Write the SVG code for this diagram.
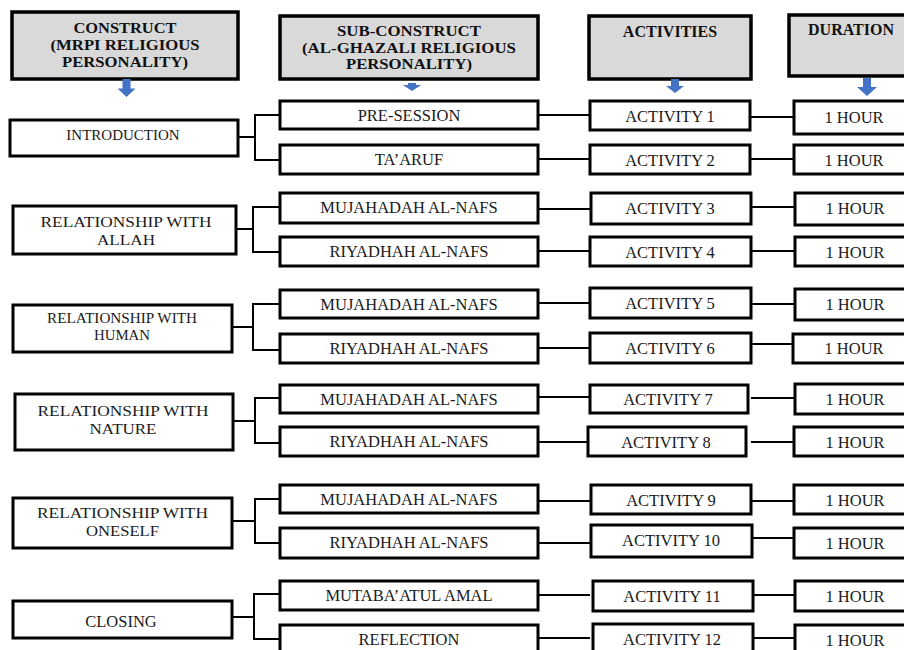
<svg xmlns="http://www.w3.org/2000/svg" width="904" height="650" viewBox="0 0 904 650">
<style>
.hdr{fill:#d9d9d9;stroke:#000;stroke-width:3.5}
.box{fill:#fff;stroke:#000;stroke-width:3}
.ht{font-family:"Liberation Serif","Times New Roman",serif;font-weight:bold;font-size:16px;fill:#111;text-anchor:middle}
.ht2{font-size:15.3px}
.t{font-family:"Liberation Serif","Times New Roman",serif;font-size:16.5px;fill:#1a1a1a;text-anchor:middle}
.m{font-size:15.5px}
.s{font-size:15px}
.con{fill:none;stroke:#000;stroke-width:2}
.arr{fill:#4472c4}
</style>
<rect width="904" height="650" fill="#fff"/>
<!-- headers -->
<g id="h-construct"><rect class="hdr" x="12" y="12" width="226" height="67"/><text class="ht ht2" lengthAdjust="spacingAndGlyphs"><tspan x="125" y="33" textLength="103" lengthAdjust="spacingAndGlyphs">CONSTRUCT</tspan><tspan x="125" y="50" textLength="149" lengthAdjust="spacingAndGlyphs">(MRPI RELIGIOUS</tspan><tspan x="125" y="67" textLength="126" lengthAdjust="spacingAndGlyphs">PERSONALITY)</tspan></text></g>
<g id="h-subconstruct"><rect class="hdr" x="280" y="16" width="258" height="63"/><text class="ht ht2"><tspan x="409" y="36" textLength="144" lengthAdjust="spacingAndGlyphs">SUB-CONSTRUCT</tspan><tspan x="409" y="52.5" textLength="214" lengthAdjust="spacingAndGlyphs">(AL-GHAZALI RELIGIOUS</tspan><tspan x="409" y="69" textLength="126" lengthAdjust="spacingAndGlyphs">PERSONALITY)</tspan></text></g>
<g id="h-activities"><rect class="hdr" x="589" y="16" width="162" height="63"/><text class="ht" x="670" y="36.5">ACTIVITIES</text></g>
<g id="h-duration"><rect class="hdr" x="789" y="15" width="124" height="61"/><text class="ht" x="851" y="35">DURATION</text></g>
<!-- header arrows -->
<g id="arrows">
<path class="arr" d="M122.5,79 H130.5 V88.5 H135.5 L126.5,97 L117.5,88.5 H122.5 Z"/>
<path class="arr" d="M408,83 H416 V85 H421 L412,91 L403,85 H408 Z"/>
<path class="arr" d="M671,79 H679 V86 H684 L675,93 L666,86 H671 Z"/>
<path class="arr" d="M863,78 H871 V87 H877 L867,96 L857,87 H863 Z"/>
</g>
<!-- connectors -->
<g id="connectors">
<path class="con" d="M238,137 H255 M280,115 H255 V160 H280"/>
<path class="con" d="M236,229 H253 M280,207 H253 V252 H280"/>
<path class="con" d="M232,327 H253 M280,304 H253 V350 H280"/>
<path class="con" d="M233,421 H255 M280,398 H255 V443 H280"/>
<path class="con" d="M232,521 H255 M280,499 H255 V543 H280"/>
<path class="con" d="M232,617 H254 M280,594 H254 V639 H280"/>
<path class="con" d="M538,115 H590 M751,117 H794"/>
<path class="con" d="M538,159 H590 M751,159 H794"/>
<path class="con" d="M538,209 H590 M751,207 H794"/>
<path class="con" d="M538,251 H590 M751,251 H794"/>
<path class="con" d="M538,303 H590 M751,304 H794"/>
<path class="con" d="M538,348 H590 M751,344 H794"/>
<path class="con" d="M538,397 H590 M751,398 H794"/>
<path class="con" d="M538,442 H590 M751,442 H794"/>
<path class="con" d="M538,501 H590 M751,501 H794"/>
<path class="con" d="M538,543 H590 M751,538 H794"/>
<path class="con" d="M538,595 H590 M751,595 H794"/>
<path class="con" d="M538,638 H590 M751,638 H794"/>
</g>
<!-- constructs -->
<g id="c-introduction"><rect class="box" x="10" y="120" width="228" height="36"/><text class="t s" x="123" y="140">INTRODUCTION</text></g>
<g id="c-allah"><rect class="box" x="13" y="206" width="223" height="48"/><text class="t m"><tspan x="126" y="227" textLength="171" lengthAdjust="spacingAndGlyphs">RELATIONSHIP WITH</tspan><tspan x="126" y="244.5" textLength="58" lengthAdjust="spacingAndGlyphs">ALLAH</tspan></text></g>
<g id="c-human"><rect class="box" x="13" y="305" width="219" height="47"/><text class="t s"><tspan x="122" y="323" textLength="150" lengthAdjust="spacingAndGlyphs">RELATIONSHIP WITH</tspan><tspan x="122" y="340" textLength="56" lengthAdjust="spacingAndGlyphs">HUMAN</tspan></text></g>
<g id="c-nature"><rect class="box" x="15" y="394" width="218" height="56"/><text class="t m"><tspan x="123" y="416" textLength="171" lengthAdjust="spacingAndGlyphs">RELATIONSHIP WITH</tspan><tspan x="123" y="433.5" textLength="67" lengthAdjust="spacingAndGlyphs">NATURE</tspan></text></g>
<g id="c-oneself"><rect class="box" x="13" y="498" width="219" height="50"/><text class="t m"><tspan x="122.5" y="518" textLength="171" lengthAdjust="spacingAndGlyphs">RELATIONSHIP WITH</tspan><tspan x="122.5" y="535.5" textLength="73" lengthAdjust="spacingAndGlyphs">ONESELF</tspan></text></g>
<g id="c-closing"><rect class="box" x="13" y="601" width="219" height="37"/><text class="t" x="121" y="627">CLOSING</text></g>
<!-- sub-constructs -->
<g id="s-presession"><rect class="box" x="280" y="101" width="258" height="28"/><text class="t" x="409" y="121">PRE-SESSION</text></g>
<g id="s-taaruf"><rect class="box" x="280" y="145" width="258" height="29"/><text class="t" x="409" y="165">TA’ARUF</text></g>
<g id="s-muj1"><rect class="box" x="280" y="193" width="258" height="30"/><text class="t" x="409" y="213">MUJAHADAH AL-NAFS</text></g>
<g id="s-riy1"><rect class="box" x="280" y="237" width="258" height="29"/><text class="t" x="409" y="257">RIYADHAH AL-NAFS</text></g>
<g id="s-muj2"><rect class="box" x="280" y="290" width="258" height="28"/><text class="t" x="409" y="310">MUJAHADAH AL-NAFS</text></g>
<g id="s-riy2"><rect class="box" x="280" y="334" width="258" height="29"/><text class="t" x="409" y="354">RIYADHAH AL-NAFS</text></g>
<g id="s-muj3"><rect class="box" x="280" y="385" width="258" height="28"/><text class="t" x="409" y="405">MUJAHADAH AL-NAFS</text></g>
<g id="s-riy3"><rect class="box" x="280" y="427" width="258" height="29"/><text class="t" x="409" y="447">RIYADHAH AL-NAFS</text></g>
<g id="s-muj4"><rect class="box" x="280" y="485" width="258" height="28"/><text class="t" x="409" y="505">MUJAHADAH AL-NAFS</text></g>
<g id="s-riy4"><rect class="box" x="280" y="528" width="258" height="30"/><text class="t" x="409" y="548">RIYADHAH AL-NAFS</text></g>
<g id="s-mutaba"><rect class="box" x="280" y="581" width="258" height="29"/><text class="t" x="409" y="601">MUTABA’ATUL AMAL</text></g>
<g id="s-reflection"><rect class="box" x="280" y="625" width="258" height="32"/><text class="t" x="409" y="645">REFLECTION</text></g>
<!-- activities -->
<g id="a1"><rect class="box" x="590" y="101" width="160" height="29"/><text class="t" x="670" y="122">ACTIVITY 1</text></g>
<g id="a2"><rect class="box" x="590" y="145" width="160" height="29"/><text class="t" x="670" y="166">ACTIVITY 2</text></g>
<g id="a3"><rect class="box" x="591" y="193" width="160" height="31"/><text class="t" x="670" y="214">ACTIVITY 3</text></g>
<g id="a4"><rect class="box" x="590" y="237" width="161" height="29"/><text class="t" x="670" y="258">ACTIVITY 4</text></g>
<g id="a5"><rect class="box" x="590" y="288" width="161" height="30"/><text class="t" x="670" y="309">ACTIVITY 5</text></g>
<g id="a6"><rect class="box" x="590" y="333" width="161" height="30"/><text class="t" x="670" y="354">ACTIVITY 6</text></g>
<g id="a7"><rect class="box" x="590" y="385" width="158" height="28"/><text class="t" x="668" y="405">ACTIVITY 7</text></g>
<g id="a8"><rect class="box" x="588" y="427" width="158" height="29"/><text class="t" x="666" y="448">ACTIVITY 8</text></g>
<g id="a9"><rect class="box" x="591" y="485" width="160" height="29"/><text class="t" x="671" y="506">ACTIVITY 9</text></g>
<g id="a10"><rect class="box" x="591" y="525" width="161" height="32"/><text class="t" x="671" y="546">ACTIVITY 10</text></g>
<g id="a11"><rect class="box" x="593" y="581" width="160" height="30"/><text class="t" x="672" y="602">ACTIVITY 11</text></g>
<g id="a12"><rect class="box" x="593" y="624" width="160" height="32"/><text class="t" x="672" y="645">ACTIVITY 12</text></g>
<!-- durations -->
<g id="d1"><rect class="box" x="794" y="101" width="122" height="33"/><text class="t" x="854" y="123">1 HOUR</text></g>
<g id="d2"><rect class="box" x="794" y="145" width="122" height="29"/><text class="t" x="854" y="166">1 HOUR</text></g>
<g id="d3"><rect class="box" x="795" y="193" width="122" height="32"/><text class="t" x="855" y="214">1 HOUR</text></g>
<g id="d4"><rect class="box" x="795" y="237" width="122" height="29"/><text class="t" x="855" y="258">1 HOUR</text></g>
<g id="d5"><rect class="box" x="795" y="289" width="122" height="31"/><text class="t" x="855" y="310">1 HOUR</text></g>
<g id="d6"><rect class="box" x="793" y="334" width="122" height="29"/><text class="t" x="854" y="354">1 HOUR</text></g>
<g id="d7"><rect class="box" x="795" y="384" width="122" height="30"/><text class="t" x="855" y="405">1 HOUR</text></g>
<g id="d8"><rect class="box" x="794" y="427" width="122" height="29"/><text class="t" x="855" y="448">1 HOUR</text></g>
<g id="d9"><rect class="box" x="794" y="485" width="122" height="29"/><text class="t" x="855" y="506">1 HOUR</text></g>
<g id="d10"><rect class="box" x="794" y="528" width="122" height="30"/><text class="t" x="855" y="549">1 HOUR</text></g>
<g id="d11"><rect class="box" x="795" y="581" width="122" height="30"/><text class="t" x="855" y="602">1 HOUR</text></g>
<g id="d12"><rect class="box" x="795" y="625" width="122" height="30"/><text class="t" x="855" y="646">1 HOUR</text></g>
</svg>
